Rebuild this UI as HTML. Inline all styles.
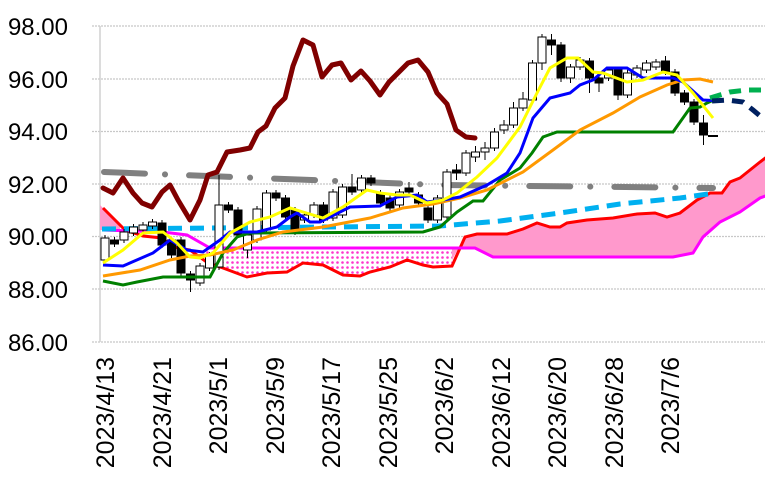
<!DOCTYPE html>
<html><head><meta charset="utf-8"><style>html,body{margin:0;padding:0;background:#fff}svg{display:block}</style></head>
<body>
<svg width="765" height="481" viewBox="0 0 765 481" xmlns="http://www.w3.org/2000/svg">
<defs>
<pattern id="dots" width="5" height="5" patternUnits="userSpaceOnUse"><rect width="5" height="5" fill="#fff"/><circle cx="2.5" cy="2.5" r="1.3" fill="#ff33cc"/></pattern>
<clipPath id="cR"><rect x="452" y="0" width="320" height="481"/></clipPath>
<clipPath id="cM"><rect x="205" y="0" width="247" height="481"/></clipPath>
<clipPath id="cL"><rect x="100" y="0" width="20" height="481"/></clipPath>
<clipPath id="plot"><rect x="100" y="0" width="665" height="345"/></clipPath>
</defs>
<g stroke="#c8c8c8" stroke-width="1.2" stroke-dasharray="2 1">
<line x1="92" y1="26" x2="765" y2="26"/><line x1="92" y1="79" x2="765" y2="79"/><line x1="92" y1="131.5" x2="765" y2="131.5"/><line x1="92" y1="184" x2="765" y2="184"/><line x1="92" y1="236.5" x2="765" y2="236.5"/><line x1="92" y1="289" x2="765" y2="289"/><line x1="92" y1="342" x2="765" y2="342"/>
</g>
<line x1="100" y1="26" x2="100" y2="342" stroke="#d0d0d0" stroke-width="1.5"/>
<g font-family="Liberation Sans, sans-serif" font-size="24" text-anchor="end" fill="#000">
<text x="68" y="35">98.00</text><text x="68" y="88">96.00</text><text x="68" y="140">94.00</text><text x="68" y="193">92.00</text><text x="68" y="245">90.00</text><text x="68" y="298">88.00</text><text x="68" y="351">86.00</text>
</g>
<g font-family="Liberation Sans, sans-serif" font-size="25" text-anchor="end" fill="#000">
<text transform="translate(114,357) rotate(-90)">2023/4/13</text>
<text transform="translate(171,357) rotate(-90)">2023/4/21</text>
<text transform="translate(227,357) rotate(-90)">2023/5/1</text>
<text transform="translate(284,357) rotate(-90)">2023/5/9</text>
<text transform="translate(340,357) rotate(-90)">2023/5/17</text>
<text transform="translate(397,357) rotate(-90)">2023/5/25</text>
<text transform="translate(453,357) rotate(-90)">2023/6/2</text>
<text transform="translate(510,357) rotate(-90)">2023/6/12</text>
<text transform="translate(566,357) rotate(-90)">2023/6/20</text>
<text transform="translate(623,357) rotate(-90)">2023/6/28</text>
<text transform="translate(679,357) rotate(-90)">2023/7/6</text>
</g>
<g clip-path="url(#plot)">
<polygon clip-path="url(#cR)" fill="#ff99cc" points="440,265 452,260 465,237 477,234 507,234 523,229 537,223 550,227 560,227 567,223 587,220 613,218 637,214 655,213 667,217 680,213 697,200 710,193 722,193 730,182 740,178 760,162 768,156 768,195 760,198 740,212 720,222 703,237 693,253 673,257 493,257 475,248 440,248"/>
<polygon clip-path="url(#cM)" fill="url(#dots)" points="190,250 208,263 223,268 247,277 267,273 287,272 303,263 323,265 343,275 360,276 370,272 390,267 407,260 423,265 433,267 452,266 452,248 210,248 187,235"/>
<polygon clip-path="url(#cL)" fill="#ff99cc" points="100,205 103,208 125,230 125,232 103,230 100,230"/>
<polyline fill="none" stroke="#ff0000" stroke-width="3" points="103,208 125,230 143,236 162,238 173,247 190,250 208,263 223,268 247,277 267,273 287,272 303,263 323,265 343,275 360,276 370,272 390,267 407,260 423,265 433,267 452,266 465,237 477,234 507,234 523,229 537,223 550,227 560,227 567,223 587,220 613,218 637,214 655,213 667,217 680,213 697,200 710,193 722,193 730,182 740,178 760,162 768,156"/>
<polyline fill="none" stroke="#ff00ff" stroke-width="3" points="103,230 163,232 187,235 210,248 453,248 475,248 493,257 673,257 693,253 703,237 720,222 740,212 760,198 768,195"/>
<polyline fill="none" stroke="#808080" stroke-width="6" stroke-linecap="round" stroke-dasharray="41 20 0.1 24" points="104,172 440,185 713,188"/>
<polyline fill="none" stroke="#00b0f0" stroke-width="5" stroke-dasharray="14 8" points="102,229 440,226 500,221 560,213 620,204 680,198 715,193"/>
<g stroke="#000" stroke-width="1">
<line x1="105" y1="235" x2="105" y2="263"/><rect x="101" y="238" width="8" height="22" fill="#fff"/>
<line x1="114.5" y1="237" x2="114.5" y2="247"/><rect x="110.5" y="240" width="8" height="4" fill="#000"/>
<line x1="124" y1="229" x2="124" y2="243"/><rect x="120" y="232" width="8" height="8" fill="#fff"/>
<line x1="133.5" y1="224" x2="133.5" y2="236"/><rect x="129.5" y="227" width="8" height="6" fill="#fff"/>
<line x1="143" y1="222" x2="143" y2="233"/><rect x="139" y="225" width="8" height="5" fill="#fff"/>
<line x1="152.5" y1="219" x2="152.5" y2="229"/><rect x="148.5" y="222" width="8" height="4" fill="#fff"/>
<line x1="162" y1="220" x2="162" y2="248"/><rect x="158" y="223" width="8" height="22" fill="#000"/>
<line x1="171.5" y1="237" x2="171.5" y2="258"/><rect x="167.5" y="240" width="8" height="15" fill="#000"/>
<line x1="181" y1="237" x2="181" y2="276"/><rect x="177" y="240" width="8" height="33" fill="#000"/>
<line x1="190.5" y1="271" x2="190.5" y2="292"/><rect x="186.5" y="274" width="8" height="6" fill="#000"/>
<line x1="200" y1="263" x2="200" y2="286"/><rect x="196" y="266" width="8" height="17" fill="#fff"/>
<line x1="209.5" y1="252" x2="209.5" y2="271"/><rect x="205.5" y="255" width="8" height="13" fill="#fff"/>
<line x1="219" y1="175" x2="219" y2="270"/><rect x="215" y="205" width="8" height="62" fill="#fff"/>
<line x1="228.5" y1="202" x2="228.5" y2="213"/><rect x="224.5" y="205" width="8" height="5" fill="#000"/>
<line x1="238" y1="207" x2="238" y2="238"/><rect x="234" y="210" width="8" height="25" fill="#000"/>
<line x1="247.5" y1="232" x2="247.5" y2="258"/><rect x="243.5" y="235" width="8" height="15" fill="#fff"/>
<line x1="257" y1="206" x2="257" y2="243"/><rect x="253" y="209" width="8" height="31" fill="#fff"/>
<line x1="266.5" y1="190" x2="266.5" y2="233"/><rect x="262.5" y="193" width="8" height="37" fill="#fff"/>
<line x1="276" y1="190" x2="276" y2="201"/><rect x="272" y="193" width="8" height="5" fill="#000"/>
<line x1="285.5" y1="195" x2="285.5" y2="220"/><rect x="281.5" y="198" width="8" height="19" fill="#000"/>
<line x1="295" y1="207" x2="295" y2="235"/><rect x="291" y="210" width="8" height="22" fill="#000"/>
<line x1="304.5" y1="212" x2="304.5" y2="223"/><rect x="300.5" y="215" width="8" height="5" fill="#fff"/>
<line x1="314" y1="202" x2="314" y2="218"/><rect x="310" y="205" width="8" height="10" fill="#fff"/>
<line x1="323.5" y1="202" x2="323.5" y2="223"/><rect x="319.5" y="205" width="8" height="15" fill="#000"/>
<line x1="333" y1="189" x2="333" y2="221"/><rect x="329" y="192" width="8" height="26" fill="#fff"/>
<line x1="342.5" y1="184" x2="342.5" y2="218"/><rect x="338.5" y="187" width="8" height="28" fill="#fff"/>
<line x1="352" y1="174" x2="352" y2="195"/><rect x="348" y="187" width="8" height="5" fill="#000"/>
<line x1="361.5" y1="175" x2="361.5" y2="193"/><rect x="357.5" y="178" width="8" height="12" fill="#fff"/>
<line x1="371" y1="175" x2="371" y2="186"/><rect x="367" y="178" width="8" height="5" fill="#000"/>
<line x1="380.5" y1="190" x2="380.5" y2="206"/><rect x="376.5" y="193" width="8" height="10" fill="#000"/>
<line x1="390" y1="195" x2="390" y2="211"/><rect x="386" y="198" width="8" height="10" fill="#000"/>
<line x1="399.5" y1="189" x2="399.5" y2="208"/><rect x="395.5" y="192" width="8" height="13" fill="#fff"/>
<line x1="409" y1="182" x2="409" y2="195"/><rect x="405" y="188" width="8" height="4" fill="#000"/>
<line x1="418.5" y1="192" x2="418.5" y2="206"/><rect x="414.5" y="195" width="8" height="8" fill="#000"/>
<line x1="428" y1="205" x2="428" y2="223"/><rect x="424" y="208" width="8" height="12" fill="#000"/>
<line x1="437.5" y1="195" x2="437.5" y2="223"/><rect x="433.5" y="198" width="8" height="22" fill="#fff"/>
<line x1="447" y1="169" x2="447" y2="220"/><rect x="443" y="172" width="8" height="45" fill="#fff"/>
<line x1="456.5" y1="164" x2="456.5" y2="180"/><rect x="452.5" y="170" width="8" height="3" fill="#000"/>
<line x1="466" y1="150" x2="466" y2="176"/><rect x="462" y="153" width="8" height="20" fill="#fff"/>
<line x1="475.5" y1="146" x2="475.5" y2="162"/><rect x="471.5" y="152" width="8" height="5" fill="#fff"/>
<line x1="485" y1="142" x2="485" y2="160"/><rect x="481" y="148" width="8" height="4" fill="#fff"/>
<line x1="494.5" y1="128" x2="494.5" y2="151"/><rect x="490.5" y="132" width="8" height="16" fill="#fff"/>
<line x1="504" y1="120" x2="504" y2="134"/><rect x="500" y="125" width="8" height="5" fill="#fff"/>
<line x1="513.5" y1="102" x2="513.5" y2="128"/><rect x="509.5" y="108" width="8" height="17" fill="#fff"/>
<line x1="523" y1="92" x2="523" y2="111"/><rect x="519" y="99" width="8" height="9" fill="#fff"/>
<line x1="532.5" y1="60" x2="532.5" y2="103"/><rect x="528.5" y="63" width="8" height="37" fill="#fff"/>
<line x1="542" y1="34" x2="542" y2="70"/><rect x="538" y="37" width="8" height="26" fill="#fff"/>
<line x1="551.5" y1="34" x2="551.5" y2="55"/><rect x="547.5" y="40" width="8" height="5" fill="#000"/>
<line x1="561" y1="42" x2="561" y2="82"/><rect x="557" y="45" width="8" height="33" fill="#000"/>
<line x1="570.5" y1="64" x2="570.5" y2="83"/><rect x="566.5" y="67" width="8" height="11" fill="#fff"/>
<line x1="580" y1="57" x2="580" y2="70"/><rect x="576" y="60" width="8" height="7" fill="#fff"/>
<line x1="589.5" y1="58" x2="589.5" y2="93"/><rect x="585.5" y="61" width="8" height="17" fill="#000"/>
<line x1="599" y1="75" x2="599" y2="92"/><rect x="595" y="78" width="8" height="5" fill="#000"/>
<line x1="608.5" y1="67" x2="608.5" y2="81"/><rect x="604.5" y="70" width="8" height="8" fill="#fff"/>
<line x1="618" y1="67" x2="618" y2="100"/><rect x="614" y="70" width="8" height="25" fill="#000"/>
<line x1="627.5" y1="70" x2="627.5" y2="98"/><rect x="623.5" y="73" width="8" height="22" fill="#fff"/>
<line x1="637" y1="65" x2="637" y2="78"/><rect x="633" y="68" width="8" height="7" fill="#fff"/>
<line x1="646.5" y1="60" x2="646.5" y2="73"/><rect x="642.5" y="63" width="8" height="7" fill="#fff"/>
<line x1="656" y1="59" x2="656" y2="70"/><rect x="652" y="62" width="8" height="5" fill="#fff"/>
<line x1="665.5" y1="56" x2="665.5" y2="75"/><rect x="661.5" y="61" width="8" height="11" fill="#000"/>
<line x1="675" y1="69" x2="675" y2="96"/><rect x="671" y="72" width="8" height="21" fill="#000"/>
<line x1="684.5" y1="90" x2="684.5" y2="105"/><rect x="680.5" y="93" width="8" height="9" fill="#000"/>
<line x1="694" y1="99" x2="694" y2="125"/><rect x="690" y="102" width="8" height="20" fill="#000"/>
<line x1="703.5" y1="115" x2="703.5" y2="145"/><rect x="699.5" y="123" width="8" height="12" fill="#000"/>
<line x1="708" y1="136" x2="718" y2="136" stroke-width="2"/>
</g>
<polyline fill="none" stroke="#008000" stroke-width="3" points="103,281 123,285 137,282 163,277 210,277 223,253 237,237 250,233 423,232 440,227 457,212 473,201 483,201 500,180 520,168 532,153 543,137 557,132 673,132 690,108 700,107 707,103 718,98"/>
<polyline fill="none" stroke="#ff9900" stroke-width="3" points="103,276 140,270 170,260 190,256 210,255 233,250 257,240 283,232 323,227 370,218 403,208 433,204 460,198 487,190 523,172 553,150 580,130 613,113 640,97 667,85 683,80 700,79 713,82"/>
<polyline fill="none" stroke="#0000ff" stroke-width="3" points="103,265 123,266 153,253 170,240 187,250 203,252 220,240 230,232 257,232 277,227 290,217 297,213 310,222 320,222 330,217 350,207 380,206 397,197 417,195 427,202 443,200 460,197 487,185 507,173 520,153 533,118 550,98 570,93 580,85 593,80 607,68 627,68 643,78 673,78 683,82 703,100 723,101"/>
<polyline fill="none" stroke="#ffff00" stroke-width="3" points="103,263 123,250 143,233 163,232 177,243 190,257 200,258 213,253 230,233 250,222 270,217 290,208 303,212 323,218 343,207 367,190 380,193 397,195 410,195 427,203 443,200 457,193 477,177 497,158 520,127 537,93 550,68 567,58 578,58 593,72 603,73 627,82 643,80 663,72 677,75 693,93 713,118"/>
<polyline fill="none" stroke="#00b050" stroke-width="5" stroke-dasharray="12 8" points="710,98 730,92 747,90 765,90"/>
<polyline fill="none" stroke="#002060" stroke-width="5" stroke-dasharray="12 8" points="712,101 727,100 743,102 753,110 765,120"/>
<polyline fill="none" stroke="#800000" stroke-width="5" stroke-linejoin="round" stroke-linecap="round" points="103,188 113,193 123,178 133,193 142,203 152,207 162,192 170,185 178,200 190,220 200,200 208,175 217,172 227,152 240,150 250,148 258,132 266,126 275,108 285,98 293,66 303,40 313,45 322,77 332,65 341,63 351,80 361,71 370,81 380,95 389,82 399,72 408,63 418,60 428,72 437,93 447,104 456,130 466,137 475,138"/>
</g>
</svg>
</body></html>
